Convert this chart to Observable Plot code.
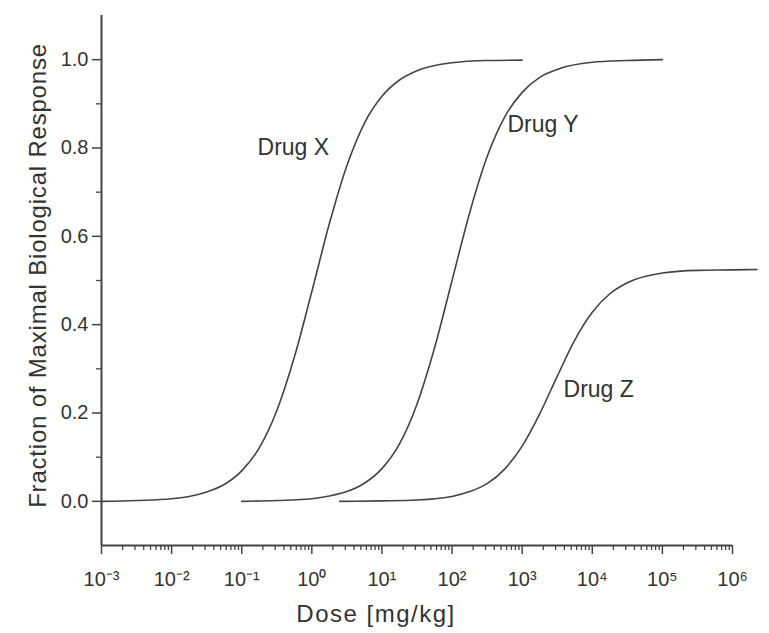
<!DOCTYPE html>
<html>
<head>
<meta charset="utf-8">
<script src="https://cdn.jsdelivr.net/npm/d3@7"></script>
<script src="https://cdn.jsdelivr.net/npm/@observablehq/plot@0.6"></script>
<style>
  body { margin: 0; background: #fff; }
</style>
</head>
<body>
<div id="chart"></div>
<script>
// ---- Data ----
const doseX = [0.001, 0.00316, 0.01, 0.0178, 0.0316, 0.0562, 0.1, 0.178, 0.316, 0.562, 1, 1.78, 3.16, 5.62, 10, 17.8, 31.6, 100, 316, 1000];
const respX = [0.000, 0.002, 0.006, 0.011, 0.021, 0.038, 0.069, 0.121, 0.205, 0.326, 0.475, 0.629, 0.760, 0.856, 0.917, 0.954, 0.975, 0.993, 0.998, 0.999];

const doseY = [0.1, 0.316, 1, 1.78, 3.16, 5.62, 10, 17.8, 31.6, 56.2, 100, 178, 316, 562, 1000, 1778, 3162, 10000, 31600, 100000];
const respY = [0.000, 0.002, 0.006, 0.012, 0.022, 0.041, 0.074, 0.130, 0.220, 0.347, 0.500, 0.653, 0.780, 0.870, 0.926, 0.960, 0.978, 0.994, 0.998, 1.000];

const doseZ = [2.5, 10, 31.6, 100, 178, 316, 562, 1000, 1778, 3162, 5623, 10000, 17783, 31623, 100000, 316228, 1000000, 2240000];
const respZ = [0.000, 0.001, 0.003, 0.011, 0.022, 0.040, 0.073, 0.125, 0.198, 0.283, 0.365, 0.428, 0.470, 0.495, 0.517, 0.523, 0.524, 0.525];

const drugNames = ["Drug X", "Drug Y", "Drug Z"];
const labelDose = [0.168, 617, 3890];
const labelResp = [0.80, 0.853, 0.252];

const xMajor = [1e-3, 1e-2, 1e-1, 1e0, 1e1, 1e2, 1e3, 1e4, 1e5, 1e6];
const xMajorLabels = ["10⁻³", "10⁻²", "10⁻¹", "10⁰", "10¹", "10²", "10³", "10⁴", "10⁵", "10⁶"];
const xMinorMultipliers = [2, 3, 4, 5, 6, 7, 8, 9];

const yMajor = [0, 0.2, 0.4, 0.6, 0.8, 1.0];
const yMajorLabels = ["0.0", "0.2", "0.4", "0.6", "0.8", "1.0"];
const yMinor = [0.1, 0.3, 0.5, 0.7, 0.9];

const xTitle = "Dose [mg/kg]";
const yTitle = "Fraction of Maximal Biological Response";

// ---- Build tables ----
const curves = [
  ...doseX.map((d, i) => ({drug: drugNames[0], dose: d, resp: respX[i]})),
  ...doseY.map((d, i) => ({drug: drugNames[1], dose: d, resp: respY[i]})),
  ...doseZ.map((d, i) => ({drug: drugNames[2], dose: d, resp: respZ[i]}))
];
const labels = drugNames.map((name, i) => ({name, dose: labelDose[i], resp: labelResp[i]}));
const xMinor = xMajor.slice(0, -1).flatMap(d => xMinorMultipliers.map(k => k * d));
const xLabelOf = new Map(xMajor.map((d, i) => [Math.round(Math.log10(d)), xMajorLabels[i]]));
const yLabelOf = new Map(yMajor.map((d, i) => [d.toFixed(1), yMajorLabels[i]]));

const font = "'Liberation Sans', Arial, Helvetica, sans-serif";
const ink = "#333";
const lineCol = "#444";

const chart = Plot.plot({
  width: 769,
  height: 633,
  marginLeft: 101,
  marginRight: 37,
  marginTop: 15,
  marginBottom: 88,
  style: {fontFamily: font, background: "#fff", color: ink},
  x: {type: "log", domain: [1e-3, 1e6]},
  y: {domain: [-0.1, 1.1]},
  marks: [
    Plot.axisX(xMinor, {anchor: "bottom", tickSize: 5, tickFormat: () => "", label: null, stroke: lineCol, strokeWidth: 1.3}),
    Plot.axisX(xMajor, {anchor: "bottom", tickSize: 9, tickPadding: 17, tickFormat: d => xLabelOf.get(Math.round(Math.log10(d))), label: null, fontSize: 20, stroke: lineCol, fill: ink, strokeWidth: 1.5}),
    Plot.axisY(yMinor, {anchor: "left", tickSize: 5, tickFormat: () => "", label: null, stroke: lineCol, strokeWidth: 1.3}),
    Plot.axisY(yMajor, {anchor: "left", tickSize: 9, tickPadding: 4, tickFormat: d => yLabelOf.get(d.toFixed(1)), label: null, fontSize: 20, stroke: lineCol, fill: ink, strokeWidth: 1.5}),
    Plot.ruleX([1e-3], {stroke: lineCol, strokeWidth: 2}),
    Plot.ruleY([-0.1], {stroke: lineCol, strokeWidth: 2}),
    Plot.line(curves, {x: "dose", y: "resp", z: "drug", curve: "monotone-x", stroke: lineCol, strokeWidth: 1.6}),
    Plot.text(labels, {x: "dose", y: "resp", text: "name", textAnchor: "start", fontSize: 23, fill: ink}),
    Plot.text([xTitle], {frameAnchor: "bottom", textAnchor: "middle", lineAnchor: "middle", dx: -41, dy: 69, fontSize: 24, fill: ink}),
    Plot.text([yTitle], {frameAnchor: "left", textAnchor: "middle", lineAnchor: "middle", rotate: -90, dx: -63, dy: -5, fontSize: 24, fill: ink})
  ]
});
d3.select(chart).selectAll("text").filter(function() { return this.textContent === xTitle; }).style("letter-spacing", "1.5px");
d3.select(chart).selectAll("text").filter(function() { return this.textContent === yTitle; }).style("letter-spacing", "0.8px");
document.getElementById("chart").appendChild(chart);
</script>
</body>
</html>
